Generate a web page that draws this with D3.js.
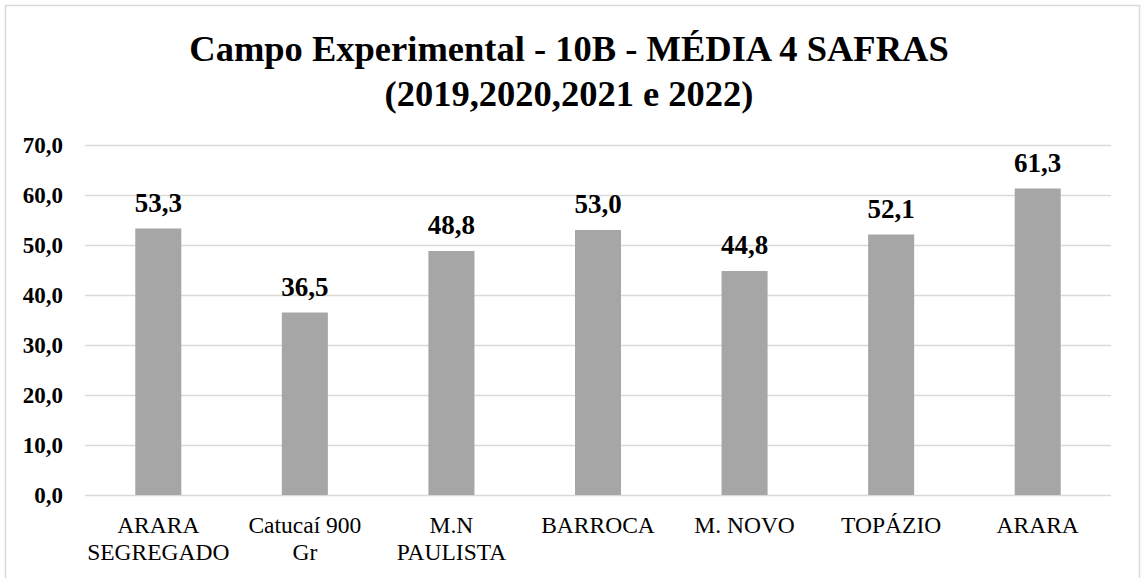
<!DOCTYPE html>
<html>
<head>
<meta charset="utf-8">
<script src="https://cdn.jsdelivr.net/npm/d3@7"></script>
<style>
  body { margin: 0; background: #fff; }
</style>
</head>
<body>
<div id="chart"></div>
<script>
// chart data
const categories = [["ARARA", "SEGREGADO"], ["Catucaí 900", "Gr"], ["M.N", "PAULISTA"], ["BARROCA"], ["M. NOVO"], ["TOPÁZIO"], ["ARARA"]];
const values = [53.3, 36.5, 48.8, 53.0, 44.8, 52.1, 61.3];
const yTicks = [0, 10, 20, 30, 40, 50, 60, 70];
const titleLines = ["Campo Experimental - 10B - MÉDIA 4 SAFRAS", "(2019,2020,2021 e 2022)"];

const width = 1141, height = 578;
const margin = {top: 145, right: 30, bottom: 83, left: 85};
const innerWidth = width - margin.left - margin.right;
const innerHeight = height - margin.top - margin.bottom;
const serif = "'Liberation Serif', 'Times New Roman', serif";

const fmt = v => v.toFixed(1).replace(".", ",");

const svg = d3.select("#chart")
    .append("svg")
    .attr("width", width)
    .attr("height", height)
    .attr("font-family", serif);

// outer frame (bottom edge falls outside the picture)
svg.append("rect")
    .attr("x", 5.5)
    .attr("y", 5.5)
    .attr("width", width - 7)
    .attr("height", height + 4)
    .attr("fill", "none")
    .attr("stroke", "#d9d9d9")
    .attr("stroke-width", 1.5);

// title
svg.append("g")
    .selectAll("text")
    .data(titleLines)
    .join("text")
    .attr("x", 569)
    .attr("y", (d, i) => 61 + i * 45)
    .attr("text-anchor", "middle")
    .attr("font-weight", "bold")
    .attr("font-size", 36.5)
    .attr("fill", "#000")
    .text(d => d);

const g = svg.append("g")
    .attr("transform", `translate(${margin.left}, ${margin.top})`);

const x = d3.scaleBand()
    .domain(d3.range(values.length))
    .range([0, innerWidth])
    .paddingInner(0.686)
    .paddingOuter(0.343);

const y = d3.scaleLinear()
    .domain([0, 70])
    .range([innerHeight, 0]);

// gridlines
g.append("g")
    .selectAll("line")
    .data(yTicks)
    .join("line")
    .attr("x1", 0)
    .attr("x2", innerWidth)
    .attr("y1", d => Math.round(y(d)) + 0.5)
    .attr("y2", d => Math.round(y(d)) + 0.5)
    .attr("stroke", "#d9d9d9")
    .attr("stroke-width", 1.5);

// y tick labels
g.append("g")
    .selectAll("text")
    .data(yTicks)
    .join("text")
    .attr("x", -22)
    .attr("y", d => y(d) + 8)
    .attr("text-anchor", "end")
    .attr("font-weight", "bold")
    .attr("font-size", 23)
    .attr("fill", "#000")
    .text(d => fmt(d));

// bars
g.append("g")
    .selectAll("rect")
    .data(values)
    .join("rect")
    .attr("x", (d, i) => x(i))
    .attr("y", d => y(d))
    .attr("width", x.bandwidth())
    .attr("height", d => innerHeight - y(d))
    .attr("fill", "#a6a6a6");

// value labels
g.append("g")
    .selectAll("text")
    .data(values)
    .join("text")
    .attr("x", (d, i) => x(i) + x.bandwidth() / 2)
    .attr("y", d => y(d) - 17)
    .attr("text-anchor", "middle")
    .attr("font-weight", "bold")
    .attr("font-size", 27)
    .attr("fill", "#000")
    .text(d => fmt(d));

// category labels, one text per line
const catLines = categories.flatMap((lines, i) => lines.map((line, j) => ({line, i, j})));
g.append("g")
    .selectAll("text")
    .data(catLines)
    .join("text")
    .attr("x", d => x(d.i) + x.bandwidth() / 2)
    .attr("y", d => innerHeight + 38 + d.j * 27)
    .attr("text-anchor", "middle")
    .attr("font-size", 23.5)
    .attr("fill", "#000")
    .text(d => d.line);
</script>
</body>
</html>
